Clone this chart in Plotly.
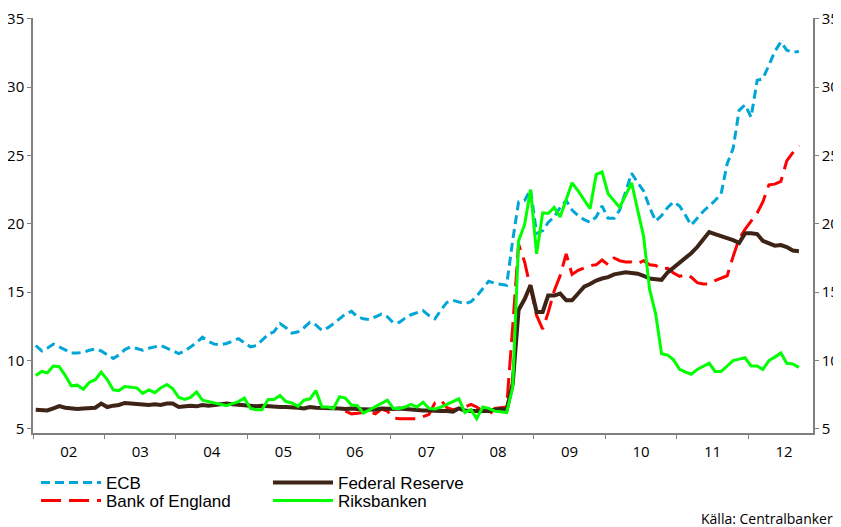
import pandas as pd
import plotly.graph_objects as go

# Månadsdata jan 2002 - sep 2012, balansräkning i % av BNP
months = pd.date_range("2002-01-01", periods=129, freq="MS") + pd.Timedelta(days=14)

ecb = [
    11.1, 10.7, 10.9, 11.2, 11.0, 10.8, 10.55, 10.55, 10.6, 10.75,
    10.85, 10.7, 10.4, 10.15, 10.4, 10.8, 11.0, 10.9, 10.75, 10.9,
    11.0, 11.1, 10.9, 10.7, 10.5, 10.7, 11.0, 11.3, 11.7, 11.4,
    11.2, 11.15, 11.25, 11.4, 11.6, 11.3, 11.0, 11.1, 11.5, 11.9,
    12.1, 12.7, 12.4, 12.0, 12.1, 12.4, 12.8, 12.6, 12.2, 12.4,
    12.7, 13.05, 13.4, 13.6, 13.2, 13.05, 13.0, 13.2, 13.4, 13.2,
    12.75, 12.8, 13.1, 13.35, 13.5, 13.65, 13.3, 13.05, 13.7, 14.25,
    14.4, 14.25, 14.15, 14.3, 14.7, 15.25, 15.8, 15.65, 15.55, 15.5,
    18.8, 21.6, 21.7, 22.5, 19.3, 19.5, 20.1, 20.5, 21.2, 21.7,
    21.0, 20.6, 20.3, 20.1, 20.5, 21.3, 20.4, 20.4, 21.0, 22.3,
    23.7, 23.0, 22.4, 21.2, 20.2, 20.6, 21.2, 21.6, 21.3, 20.6,
    19.9, 20.4, 20.9, 21.3, 21.7, 22.2, 24.4, 25.5, 28.3, 28.7,
    27.8, 30.5, 30.6, 31.6, 32.6, 33.3, 32.7, 32.55, 32.6,
]

fed = [
    6.4, 6.4, 6.35, 6.5, 6.67, 6.55, 6.5, 6.45, 6.5, 6.55,
    6.55, 6.85, 6.6, 6.7, 6.75, 6.9, 6.85, 6.8, 6.8, 6.75,
    6.8, 6.75, 6.85, 6.85, 6.6, 6.65, 6.7, 6.65, 6.75, 6.7,
    6.75, 6.8, 6.85, 6.8, 6.75, 6.7, 6.65, 6.65, 6.7, 6.65,
    6.65, 6.6, 6.6, 6.6, 6.55, 6.5, 6.6, 6.55, 6.55, 6.5,
    6.5, 6.5, 6.45, 6.5, 6.45, 6.45, 6.45, 6.4, 6.5, 6.45,
    6.45, 6.5, 6.45, 6.4, 6.4, 6.35, 6.35, 6.3, 6.3, 6.3,
    6.25, 6.5, 6.35, 6.3, 6.3, 6.25, 6.3, 6.4, 6.45, 6.4,
    8.3, 13.7, 14.5, 15.5, 13.55, 13.55, 14.75, 14.75, 14.9, 14.4,
    14.4, 14.9, 15.4, 15.6, 15.85, 16.0, 16.1, 16.3, 16.4, 16.45,
    16.4, 16.35, 16.2, 16.0, 15.95, 15.9, 16.45, 16.8, 17.1, 17.5,
    17.85, 18.3, 18.8, 19.4, 19.25, 19.1, 19.0, 18.8, 18.6, 19.3,
    19.3, 19.25, 18.75, 18.6, 18.4, 18.45, 18.3, 18.05, 18.0,
]

boe = [None] * 52 + [
    6.3, 6.1, 6.15, 6.2, 6.25, 6.1, 6.45, 6.3,
    5.8, 5.75, 5.75, 5.8, 5.75, 5.9, 6.05, 6.9, 7.1, 6.55,
    6.4, 6.5, 6.6, 6.8, 6.6, 6.3, 6.0, 6.5, 6.55, 6.6,
    12.5, 18.5, 17.2, 15.2, 13.3, 12.3, 13.5, 15.1, 16.2, 17.8,
    16.3, 16.6, 16.8, 16.95, 17.0, 17.35, 17.0, 17.5, 17.3, 17.2,
    17.2, 17.1, 17.3, 17.0, 16.95, 16.7, 16.75, 16.4, 16.15, 16.3,
    16.1, 15.7, 15.6, 15.6, 15.85, 16.0, 16.2, 17.6, 18.9, 19.6,
    20.2, 20.8, 21.6, 22.85, 22.9, 23.1, 24.6, 25.2, 25.7,
]

riks = [
    8.9, 9.2, 9.1, 9.6, 9.55, 8.9, 8.15, 8.2, 7.9, 8.4,
    8.6, 9.15, 8.6, 7.85, 7.8, 8.1, 8.05, 8.0, 7.6, 7.85,
    7.65, 8.0, 8.25, 7.95, 7.3, 7.15, 7.3, 7.7, 7.1, 7.0,
    6.9, 6.75, 6.7, 6.85, 7.0, 7.25, 6.5, 6.4, 6.4, 7.15,
    7.15, 7.45, 7.0, 6.9, 6.65, 7.1, 7.2, 7.8, 6.6, 6.6,
    6.5, 7.35, 7.25, 6.75, 6.7, 6.15, 6.4, 6.65, 6.9, 7.1,
    6.5, 6.5, 6.6, 6.8, 6.6, 6.95, 6.5, 6.45, 6.6, 6.8,
    7.0, 7.2, 6.2, 6.4, 5.75, 6.6, 6.5, 6.3, 6.25, 6.2,
    8.05, 18.75, 19.95, 22.5, 17.8, 20.8, 20.75, 21.2, 20.5, 21.8,
    23.0, 22.4, 21.7, 21.1, 23.6, 23.8, 22.2, 21.7, 21.2, 22.1,
    23.0, 21.0, 19.1, 15.2, 13.4, 10.5, 10.4, 10.05, 9.35, 9.15,
    9.0, 9.35, 9.55, 9.8, 9.2, 9.2, 9.6, 10.0, 10.1, 10.2,
    9.6, 9.6, 9.35, 10.0, 10.25, 10.55, 9.8, 9.75, 9.5,
]

y_ticks = [5, 10, 15, 20, 25, 30, 35]
y_range = [4.7, 35.05]

# sidan har 8px marginal runt figuren
W, H = 833, 519

fig = go.Figure()

# ECB - kort streckad
fig.add_trace(go.Scatter(
    x=months, y=ecb, name="ECB", mode="lines",
    line=dict(color="#00a6d6", width=3, dash="9px,5px"),
    legend="legend",
))

# Bank of England - lång streckad
fig.add_trace(go.Scatter(
    x=months, y=boe, name="Bank of England", mode="lines",
    line=dict(color="#ff0000", width=3, dash="20px,8px"),
    legend="legend2",
))

# Federal Reserve - heldragen brun
fig.add_trace(go.Scatter(
    x=months, y=fed, name="Federal Reserve", mode="lines",
    line=dict(color="#3d2416", width=4),
    legend="legend",
))

# Riksbanken - heldragen grön (på högeraxeln, samma skala)
fig.add_trace(go.Scatter(
    x=months, y=riks, name="Riksbanken", mode="lines",
    line=dict(color="#00ff00", width=3),
    legend="legend2", yaxis="y2",
))

legend_style = dict(
    orientation="h",
    xref="container", yref="container",
    xanchor="left", yanchor="middle",
    x=28 / W,
    itemwidth=60,
    entrywidth=157,
    font=dict(family="Liberation Sans, Arial", size=17, color="black"),
    bgcolor="rgba(0,0,0,0)",
    traceorder="normal",
)

axis_font = dict(family="Open Sans", size=15, color="black")

common_axis = dict(
    ticks="outside", ticklen=4, tickcolor="#808080",
    showline=True, linecolor="#808080", linewidth=1.5,
    showgrid=False, zeroline=False,
    tickfont=axis_font, automargin=False,
    ticklabeloverflow="allow",
)

fig.update_layout(
    width=W, height=H,
    margin=dict(l=25, r=28, t=10, b=94),
    paper_bgcolor="white",
    plot_bgcolor="white",
    showlegend=True,
    legend=dict(legend_style, y=1 - 475 / H),
    legend2=dict(legend_style, y=1 - 493 / H),
    xaxis=dict(
        common_axis,
        type="date",
        range=["2002-01-01", "2012-11-26"],
        tick0="2002-01-01", dtick="M12",
        tickformat="%y", ticklabelmode="period",
    ),
    yaxis=dict(common_axis, range=y_range, tickvals=y_ticks),
    yaxis2=dict(
        common_axis, range=y_range, tickvals=y_ticks,
        overlaying="y", side="right", anchor="x",
    ),
    annotations=[dict(
        text="Källa: Centralbanker",
        xref="paper", yref="paper",
        x=1.028, y=-0.205,
        xanchor="right", yanchor="middle",
        showarrow=False,
        font=dict(family="Open Sans", size=14, color="black"),
    )],
)

fig.write_html("out.html")
